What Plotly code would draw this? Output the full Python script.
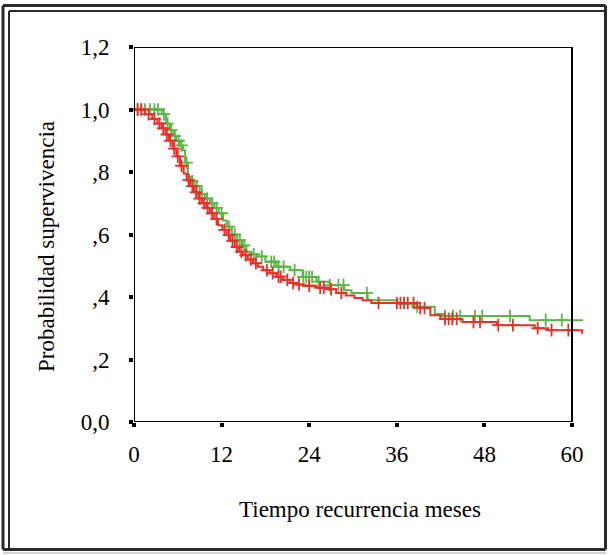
import plotly.graph_objects as go
import bisect

# ---------------- data ----------------
x_ticks = [0, 12, 24, 36, 48, 60]
y_ticks = [0.0, 0.2, 0.4, 0.6, 0.8, 1.0, 1.2]
y_tick_labels = ["0,0", ",2", ",4", ",6", ",8", "1,0", "1,2"]

# Kaplan-Meier steps (time, survival after the step) - red group
red_t = [0, 1.5, 2.5, 3.2, 3.8, 4.3, 4.8, 5.3, 5.8, 6.3, 6.8, 7.2, 7.7, 8.2, 8.8, 9.3, 9.9, 10.4, 11.0, 11.5,
         12.1, 12.7, 13.2, 13.8, 14.4, 14.9, 15.6, 16.3, 17.0, 17.7, 18.6, 19.5, 20.4, 21.4, 22.3, 23.1, 25.0,
         26.4, 27.7, 29.0, 30.2, 31.3, 32.5, 38.8, 40.6, 42.0, 45.0, 49.7, 54.9, 56.7, 61.4]
red_s = [1.0, 0.985, 0.97, 0.955, 0.94, 0.92, 0.90, 0.875, 0.85, 0.82, 0.795, 0.775, 0.755, 0.735, 0.715, 0.70,
         0.685, 0.668, 0.65, 0.63, 0.615, 0.598, 0.58, 0.56, 0.545, 0.534, 0.52, 0.508, 0.497, 0.486, 0.476,
         0.465, 0.455, 0.445, 0.44, 0.436, 0.43, 0.425, 0.413, 0.405, 0.397, 0.39, 0.381, 0.365, 0.342, 0.33,
         0.32, 0.31, 0.30, 0.294, 0.285]
red_end = 61.5
red_cens = [0.5, 1.0, 2.0, 2.8, 3.5, 4.0, 4.5, 5.0, 5.5, 6.0, 6.5, 7.5, 8.0, 8.5, 9.0, 9.6, 10.1, 10.7, 11.3,
            12.4, 13.0, 13.5, 14.1, 14.7, 15.3, 16.0, 16.7, 18.2, 19.0, 19.8, 20.1, 21.0, 21.8, 22.6, 24.0,
            25.5, 26.0, 27.0, 28.4, 33.5, 36.0, 36.5, 37.0, 37.5, 38.3, 39.2, 39.8, 42.6, 43.1, 43.6, 44.2,
            46.5, 47.4, 49.9, 51.9, 55.3, 57.2, 59.5, 60.0]

# green group
green_t = [0, 3.8, 4.4, 4.9, 5.4, 5.8, 6.3, 6.7, 7.0, 7.4, 7.8, 8.3, 9.0, 9.7, 10.4, 11.0, 11.6, 12.2, 12.7,
           13.4, 14.1, 14.8, 15.4, 16.1, 16.8, 18.0, 19.5, 21.4, 23.1, 25.0, 26.8, 28.8, 29.8, 32.0, 36.1,
           38.7, 41.2, 42.3, 54.2]
green_s = [1.0, 0.985, 0.955, 0.934, 0.915, 0.90, 0.885, 0.87, 0.83, 0.785, 0.77, 0.755, 0.73, 0.715, 0.70,
           0.685, 0.668, 0.645, 0.625, 0.60, 0.582, 0.565, 0.545, 0.537, 0.53, 0.513, 0.497, 0.486, 0.464,
           0.449, 0.438, 0.422, 0.413, 0.39, 0.378, 0.369, 0.346, 0.339, 0.326]
green_end = 61.5
green_cens = [0.5, 1.0, 1.5, 2.2, 2.8, 3.3, 4.1, 4.6, 5.1, 5.6, 6.1, 6.5, 7.2, 8.0, 8.6, 9.3, 10.0, 10.7,
              11.3, 12.0, 13.0, 13.8, 14.5, 15.1, 16.4, 17.5, 18.8, 19.2, 19.8, 20.5, 22.0, 23.2, 23.6, 24.0,
              24.4, 25.3, 26.8, 28.0, 28.7, 31.9, 38.8, 42.6, 43.7, 44.7, 46.7, 47.7, 51.5, 56.4, 58.6]

RED = "#e8302a"
GREEN = "#5cb548"
FONT = "Liberation Serif"
FS = 23

# ---------------- geometry ----------------
W, H = 608, 555
ML, MR, MT, MB = 134, 24, 47, 133
PW, PH = W - ML - MR, H - MT - MB
X_PER_MONTH = 7.3
x_max = PW / X_PER_MONTH


def px2x(px):
    return (px - ML) / PW


def py2y(py):
    return (H - MB - py) / PH


def step_value(ts, ss, t):
    i = bisect.bisect_right(ts, t) - 1
    return ss[max(i, 0)]


fig = go.Figure()

for ts, ss, end, cens, col in [(green_t, green_s, green_end, green_cens, GREEN),
                                (red_t, red_s, red_end, red_cens, RED)]:
    fig.add_trace(go.Scatter(x=ts + [end], y=ss + [ss[-1]], mode="lines",
                             line=dict(color=col, width=2, shape="hv"), hoverinfo="skip",
                             showlegend=False))
    fig.add_trace(go.Scatter(x=cens, y=[step_value(ts, ss, c) for c in cens], mode="markers",
                             marker=dict(symbol="cross-thin", size=9, line=dict(color=col, width=1.8)),
                             cliponaxis=False, showlegend=False, hoverinfo="skip"))

shapes = []
# plot frame
for x0, y0, x1, y1 in [(0, 0, 60, 0), (0, 0, 0, 1.2), (0, 1.2, 60, 1.2), (60, 0, 60, 1.2)]:
    shapes.append(dict(type="line", xref="x", yref="y", x0=x0, y0=y0, x1=x1, y1=y1,
                       line=dict(color="black", width=2), layer="above"))
# outer double border
border = "#2a2a2a"
for x0, y0, x1, y1, w in [
    (3, 5.5, 605.5, 5.5, 3), (3, 5.5, 3, 549.5, 3), (605.5, 5.5, 605.5, 549.5, 3), (3, 549.5, 605.5, 549.5, 3),
    (9, 11, 605.5, 11, 2), (9, 11, 9, 549.5, 2),
]:
    shapes.append(dict(type="line", xref="paper", yref="paper", x0=px2x(x0), y0=py2y(y0),
                       x1=px2x(x1), y1=py2y(y1), line=dict(color=border, width=w), layer="above"))
shapes.append(dict(type="line", xref="paper", yref="paper", x0=px2x(3), y0=py2y(553), x1=px2x(606),
                   y1=py2y(553), line=dict(color="#aaaaaa", width=1)))

fig.update_layout(
    width=W, height=H, autosize=False,
    margin=dict(l=ML, r=MR, t=MT, b=MB, pad=0),
    paper_bgcolor="white", plot_bgcolor="white",
    font=dict(family=FONT, size=FS, color="black"),
    shapes=shapes,
    xaxis=dict(range=[0, x_max], tickvals=x_ticks, ticktext=[str(v) for v in x_ticks],
               ticks="outside", ticklen=4, tickwidth=4, tickcolor="black",
               showgrid=False, zeroline=False, showline=False, ticklabelstandoff=7,
               tickfont=dict(family=FONT, size=FS, color="black")),
    yaxis=dict(range=[0, 1.2], tickvals=y_ticks, ticktext=y_tick_labels,
               ticks="outside", ticklen=4, tickwidth=4, tickcolor="black",
               showgrid=False, zeroline=False, showline=False, ticklabelstandoff=15,
               tickfont=dict(family=FONT, size=FS, color="black")),
    annotations=[
        dict(text="Tiempo recurrencia meses", xref="paper", yref="paper", x=px2x(360), y=py2y(510),
             xanchor="center", yanchor="middle", showarrow=False, font=dict(family=FONT, size=FS)),
        dict(text="Probabilidad supervivencia", xref="paper", yref="paper", x=px2x(46), y=py2y(247),
             xanchor="center", yanchor="middle", textangle=-90, showarrow=False,
             font=dict(family=FONT, size=FS)),
    ],
)

fig.write_html("out.html")
